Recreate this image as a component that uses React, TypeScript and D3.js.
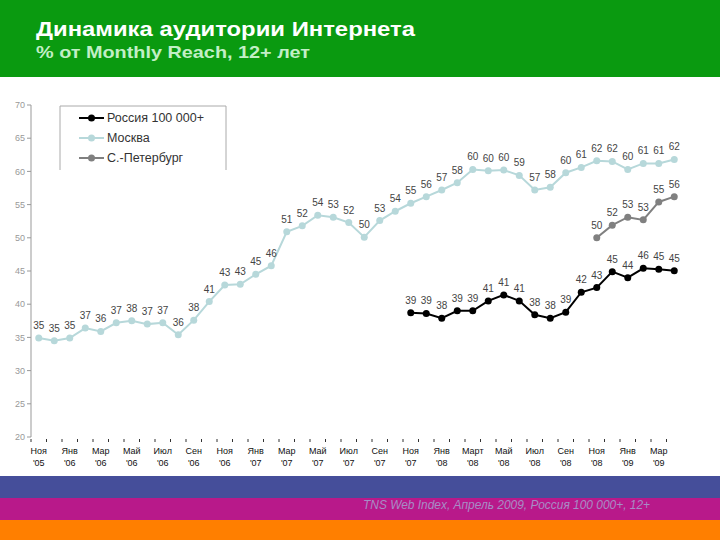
import React from "react";
import * as d3 from "d3";

// monthly categories, Nov 2005 .. Apr 2009
const months = [
  "Ноя 05", "Дек 05", "Янв 06", "Фев 06", "Мар 06", "Апр 06", "Май 06", "Июн 06", "Июл 06", "Авг 06",
  "Сен 06", "Окт 06", "Ноя 06", "Дек 06", "Янв 07", "Фев 07", "Мар 07", "Апр 07", "Май 07", "Июн 07",
  "Июл 07", "Авг 07", "Сен 07", "Окт 07", "Ноя 07", "Дек 07", "Янв 08", "Фев 08", "Мар 08", "Апр 08",
  "Май 08", "Июн 08", "Июл 08", "Авг 08", "Сен 08", "Окт 08", "Ноя 08", "Дек 08", "Янв 09", "Фев 09",
  "Мар 09", "Апр 09",
];

// tick labels under every second month
const tickMonths = ["Ноя", "Янв", "Мар", "Май", "Июл", "Сен", "Ноя", "Янв", "Мар", "Май", "Июл",
  "Сен", "Ноя", "Янв", "Март", "Май", "Июл", "Сен", "Ноя", "Янв", "Мар"];
const tickYears = ["'05", "'06", "'06", "'06", "'06", "'06", "'06", "'07", "'07", "'07", "'07",
  "'07", "'07", "'08", "'08", "'08", "'08", "'08", "'08", "'09", "'09"];

const yTicks = [20, 25, 30, 35, 40, 45, 50, 55, 60, 65, 70];

const moscowValues = [34.9, 34.5, 34.9, 36.4, 35.9, 37.2, 37.5, 37.0, 37.2, 35.4, 37.6, 40.4, 42.9, 43.0,
  44.5, 45.8, 50.9, 51.8, 53.4, 53.1, 52.3, 50.1, 52.6, 54.0, 55.2, 56.2, 57.2, 58.3, 60.3, 60.1, 60.2,
  59.4, 57.2, 57.6, 59.8, 60.6, 61.6, 61.5, 60.3, 61.2, 61.2, 61.8];
const moscowLabels = [35, 35, 35, 37, 36, 37, 38, 37, 37, 36, 38, 41, 43, 43, 45, 46, 51, 52, 54, 53, 52,
  50, 53, 54, 55, 56, 57, 58, 60, 60, 60, 59, 57, 58, 60, 61, 62, 62, 60, 61, 61, 62];

const russiaStart = 24;
const russiaValues = [38.7, 38.6, 37.9, 39.0, 39.0, 40.5, 41.4, 40.5, 38.4, 37.9, 38.8, 41.8, 42.5, 44.9,
  44.0, 45.4, 45.25, 45.05];
const russiaLabels = [39, 39, 38, 39, 39, 41, 41, 41, 38, 38, 39, 42, 43, 45, 44, 46, 45, 45];

const spbStart = 36;
const spbValues = [50.0, 51.9, 53.1, 52.7, 55.4, 56.2];
const spbLabels = [50, 52, 53, 53, 55, 56];

const seriesList = [
  { name: "Россия 100 000+", color: "#000000", start: russiaStart, values: russiaValues, labels: russiaLabels },
  { name: "Москва", color: "#b7d8da", start: 0, values: moscowValues, labels: moscowLabels },
  { name: "С.-Петербург", color: "#808080", start: spbStart, values: spbValues, labels: spbLabels },
];

const font = "'Liberation Sans', Arial, sans-serif";

export default function App() {
  const width = 720;
  const height = 540;
  const x0 = 31;
  const x1 = 682;
  const yTop = 105;
  const yBottom = 437;

  const x = d3.scaleBand<string>().domain(months).range([x0, x1]);
  const cx = (i: number) => (x(months[i]) ?? 0) + x.bandwidth() / 2;
  const y = d3.scaleLinear().domain([20, 70]).range([yBottom, yTop]);

  const line = d3.line<{ i: number; v: number }>().x((d) => cx(d.i)).y((d) => y(d.v));

  // draw Moscow first so the black series stays on top
  const drawOrder = [seriesList[1], seriesList[2], seriesList[0]];

  return (
    <svg width={width} height={height} style={{ position: "absolute", left: 0, top: 0, fontFamily: font }}>
      <rect x={0} y={0} width={width} height={height} fill="#ffffff" />
      {/* header */}
      <rect x={0} y={0} width={width} height={77} fill="#0a9a10" />
      <text x={36} y={36} fill="#ffffff" fontSize={21} fontWeight="bold" textLength={379} lengthAdjust="spacingAndGlyphs">
        Динамика аудитории Интернета
      </text>
      <text x={36} y={58} fill="#c2efc6" fontSize={17} fontWeight="bold" textLength={274} lengthAdjust="spacingAndGlyphs">
        % от Monthly Reach, 12+ лет
      </text>

      {/* y axis */}
      <line x1={x0} x2={x0} y1={yTop} y2={yBottom} stroke="#999" strokeWidth={1} />
      {yTicks.map((t) => (
        <g key={t}>
          <line x1={x0 - 4} x2={x0} y1={y(t)} y2={y(t)} stroke="#999" />
          <text x={x0 - 6} y={y(t)} dy="0.35em" textAnchor="end" fontSize={9} fill="#999">{t}</text>
        </g>
      ))}

      {/* x ticks at month boundaries */}
      {months.map((m) => (
        <line key={m} x1={x(m) ?? 0} x2={x(m) ?? 0} y1={yBottom + 2} y2={yBottom + 5} stroke="#333" />
      ))}
      {tickMonths.map((m, k) => (
        <g key={k} fontSize={9} fill="#111" textAnchor="middle">
          <text x={cx(k * 2)} y={454}>{m}</text>
          <text x={cx(k * 2)} y={466}>{tickYears[k]}</text>
        </g>
      ))}

      {/* series */}
      {drawOrder.map((s) => {
        const pts = s.values.map((v, j) => ({ i: s.start + j, v }));
        return (
          <g key={s.name}>
            <path d={line(pts) || ""} fill="none" stroke={s.color} strokeWidth={2} />
            {pts.map((p) => (
              <circle key={p.i} cx={cx(p.i)} cy={y(p.v)} r={3.5} fill={s.color} />
            ))}
            {pts.map((p, j) => (
              <text key={"l" + p.i} x={cx(p.i)} y={y(p.v) - 9} textAnchor="middle" fontSize={10} fill="#444">
                {s.labels[j]}
              </text>
            ))}
          </g>
        );
      })}

      {/* legend */}
      <rect x={60} y={106} width={166} height={64} fill="#ffffff" />
      <path d="M60,170 V106 H226 V170" fill="none" stroke="#aaa" />
      {seriesList.map((s, k) => (
        <g key={s.name}>
          <line x1={79} x2={104} y1={118 + k * 20} y2={118 + k * 20} stroke={s.color} strokeWidth={2} />
          <circle cx={91.5} cy={118 + k * 20} r={3.5} fill={s.color} />
          <text x={107} y={118 + k * 20} dy="0.35em" fontSize={12.5} fill="#333">{s.name}</text>
        </g>
      ))}

      {/* bottom bands */}
      <rect x={0} y={476} width={width} height={22} fill="#454e9a" />
      <rect x={0} y={498} width={width} height={22} fill="#b8198a" />
      <rect x={0} y={520} width={width} height={20} fill="#ff7f00" />
      <text x={363} y={509} fontSize={12} fontStyle="italic" fill="#a78cc6" textLength={287} lengthAdjust="spacingAndGlyphs">
        TNS Web Index, Апрель 2009, Россия 100 000+, 12+
      </text>
    </svg>
  );
}
